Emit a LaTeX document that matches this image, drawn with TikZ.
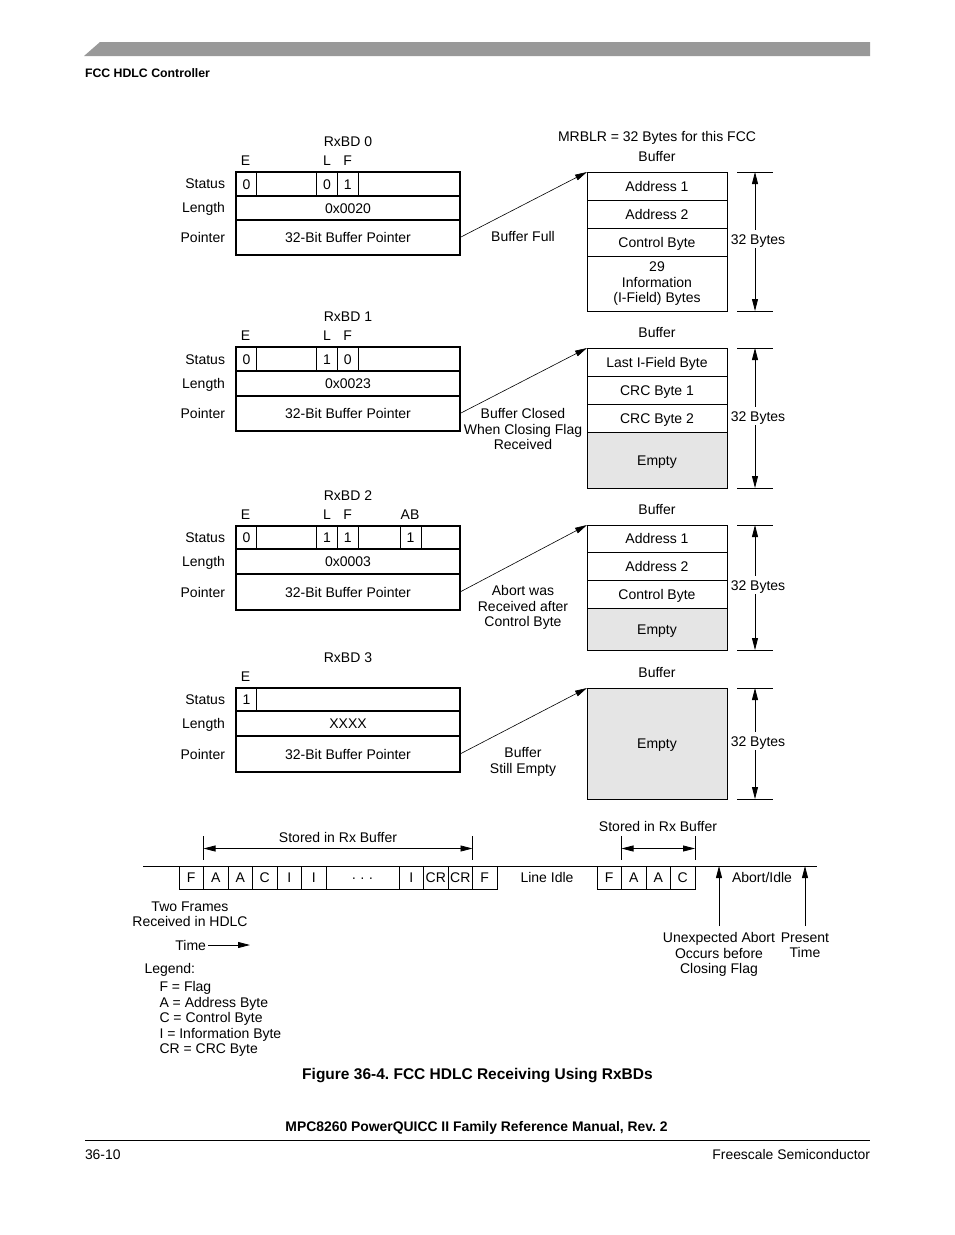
\documentclass[tikz,border=0pt]{standalone}
\usepackage{fontspec}
\setmainfont{Liberation Sans}
\usetikzlibrary{arrows.meta}
\frenchspacing
\newcommand\fs{\fontsize{14}{15.5}\selectfont}
\begin{document}
\begin{tikzpicture}[x=1pt,y=-1pt,
  every node/.style={inner sep=0pt, outer sep=0pt, font=\fs},
  lbl/.style={text height=10pt, text depth=0pt},
  ml/.style={align=center, anchor=north},
  tbl/.style={draw, line width=1.1pt},
  cellbox/.style={draw, line width=1pt},
  divider/.style={line width=1pt},
  emptyfill/.style={fill=black!10},
  conn/.style={line width=0.6pt, -{Triangle[length=12pt,width=6pt]}},
  dimline/.style={line width=0.8pt, {Triangle[length=12pt,width=6pt]}-{Triangle[length=12pt,width=6pt]}},
  dimtick/.style={line width=0.8pt},
  uparrow/.style={line width=0.8pt, -{Triangle[length=12pt,width=6pt]}},
  dimlbl/.style={fill=white, inner ysep=4pt, inner xsep=1pt, text height=10pt, text depth=0pt},
]
\useasboundingbox (0,0) rectangle (954,1235);

% ---------- page header ----------
\fill[black!40] (84,56) -- (100,42) -- (870,42) -- (870,56) -- cycle;
\node[anchor=west, font=\fontsize{12.3}{14}\selectfont\bfseries, lbl] (hdr) at (85,72) {FCC HDLC Controller};

% ---------- RxBD 0 ----------
\node[lbl] (r0) at (348,141) {RxBD 0};
\node[lbl] (r0e) at (245.5,160) {E};
\node[lbl] (r0l) at (327,160) {L};
\node[lbl] (r0f) at (347.7,160) {F};
\node[lbl, anchor=east] (r0s) at (225,183.5) {Status};
\node[lbl, anchor=east] (r0len) at (225,207.5) {Length};
\node[lbl, anchor=east] (r0p) at (225,237.5) {Pointer};
\node[tbl, minimum width=224pt, minimum height=24pt] (st0) at (348,184) {};
\node[tbl, lbl, minimum width=224pt, minimum height=24pt] (ln0) at (348,208) {0x0020};
\node[tbl, lbl, minimum width=224pt, minimum height=35pt] (pt0) at (348,237.5) {32-Bit Buffer Pointer};
\foreach \x in {256.7,316.7,337.3,358.3} \draw[divider] (\x,172) -- (\x,196);
\node[lbl] (v0a) at (246.5,184) {0};
\node[lbl] (v0b) at (327,184) {0};
\node[lbl] (v0c) at (347.7,184) {1};

% ---------- RxBD 1 ----------
\node[lbl] (r1) at (348,316.5) {RxBD 1};
\node[lbl] (r1e) at (245.5,335.5) {E};
\node[lbl] (r1l) at (327,335.5) {L};
\node[lbl] (r1f) at (347.7,335.5) {F};
\node[lbl, anchor=east] (r1s) at (225,359) {Status};
\node[lbl, anchor=east] (r1len) at (225,383.5) {Length};
\node[lbl, anchor=east] (r1p) at (225,413.5) {Pointer};
\node[tbl, minimum width=224pt, minimum height=24pt] (st1) at (348,359) {};
\node[tbl, lbl, minimum width=224pt, minimum height=25pt] (ln1) at (348,383.5) {0x0023};
\node[tbl, lbl, minimum width=224pt, minimum height=35pt] (pt1) at (348,413.5) {32-Bit Buffer Pointer};
\foreach \x in {256.7,316.7,337.3,358.3} \draw[divider] (\x,347) -- (\x,371);
\node[lbl] (v1a) at (246.5,359) {0};
\node[lbl] (v1b) at (327,359) {1};
\node[lbl] (v1c) at (347.7,359) {0};

% ---------- RxBD 2 ----------
\node[lbl] (r2) at (348,495) {RxBD 2};
\node[lbl] (r2e) at (245.5,514) {E};
\node[lbl] (r2l) at (327,514) {L};
\node[lbl] (r2f) at (347.7,514) {F};
\node[lbl] (r2ab) at (410,514) {AB};
\node[lbl, anchor=east] (r2s) at (225,537.5) {Status};
\node[lbl, anchor=east] (r2len) at (225,561.5) {Length};
\node[lbl, anchor=east] (r2p) at (225,592) {Pointer};
\node[tbl, minimum width=224pt, minimum height=23pt] (st2) at (348,537.5) {};
\node[tbl, lbl, minimum width=224pt, minimum height=25pt] (ln2) at (348,561.5) {0x0003};
\node[tbl, lbl, minimum width=224pt, minimum height=36pt] (pt2) at (348,592) {32-Bit Buffer Pointer};
\foreach \x in {256.7,316.7,337.3,358.3,400,421} \draw[divider] (\x,526) -- (\x,549);
\node[lbl] (v2a) at (246.5,537.5) {0};
\node[lbl] (v2b) at (327,537.5) {1};
\node[lbl] (v2c) at (347.7,537.5) {1};
\node[lbl] (v2d) at (410.5,537.5) {1};

% ---------- RxBD 3 ----------
\node[lbl] (r3) at (348,657) {RxBD 3};
\node[lbl] (r3e) at (245.5,676) {E};
\node[lbl, anchor=east] (r3s) at (225,699.5) {Status};
\node[lbl, anchor=east] (r3len) at (225,723.5) {Length};
\node[lbl, anchor=east] (r3p) at (225,754) {Pointer};
\node[tbl, minimum width=224pt, minimum height=23pt] (st3) at (348,699.5) {};
\node[tbl, lbl, minimum width=224pt, minimum height=25pt] (ln3) at (348,723.5) {XXXX};
\node[tbl, lbl, minimum width=224pt, minimum height=36pt] (pt3) at (348,754) {32-Bit Buffer Pointer};
\draw[divider] (256.7,688) -- (256.7,711);
\node[lbl] (v3a) at (246.5,699.5) {1};

% ---------- Buffers ----------
\node[lbl] (mrblr) at (657,136) {MRBLR = 32 Bytes for this FCC};
\node[lbl] (bl0) at (657,156) {Buffer};
\node[cellbox, lbl, minimum width=140pt, minimum height=28pt] (b0a) at (657,186) {Address 1};
\node[cellbox, lbl, minimum width=140pt, minimum height=28pt] (b0b) at (657,214) {Address 2};
\node[cellbox, lbl, minimum width=140pt, minimum height=28pt] (b0c) at (657,242) {Control Byte};
\node[cellbox, minimum width=140pt, minimum height=55pt] (b0d) at (657,283.5) {};
\node[ml] (b0dt) at (657,261.8) {29\\Information\\(I-Field) Bytes};

\node[lbl] (bl1) at (657,332) {Buffer};
\node[cellbox, lbl, minimum width=140pt, minimum height=28pt] (b1a) at (657,362) {Last I-Field Byte};
\node[cellbox, lbl, minimum width=140pt, minimum height=28pt] (b1b) at (657,390) {CRC Byte 1};
\node[cellbox, lbl, minimum width=140pt, minimum height=28pt] (b1c) at (657,418) {CRC Byte 2};
\node[cellbox, emptyfill, lbl, minimum width=140pt, minimum height=56pt] (b1d) at (657,460) {Empty};

\node[lbl] (bl2) at (657,509) {Buffer};
\node[cellbox, lbl, minimum width=140pt, minimum height=27pt] (b2a) at (657,538.5) {Address 1};
\node[cellbox, lbl, minimum width=140pt, minimum height=28pt] (b2b) at (657,566) {Address 2};
\node[cellbox, lbl, minimum width=140pt, minimum height=28pt] (b2c) at (657,594) {Control Byte};
\node[cellbox, emptyfill, lbl, minimum width=140pt, minimum height=42pt] (b2d) at (657,629) {Empty};

\node[lbl] (bl3) at (657,672) {Buffer};
\node[cellbox, emptyfill, lbl, minimum width=140pt, minimum height=111pt] (b3a) at (657,743.5) {Empty};

% ---------- connectors ----------
\draw[conn] (pt0.east) -- (b0a.north west);
\draw[conn] (pt1.east) -- (b1a.north west);
\draw[conn] (pt2.east) -- (b2a.north west);
\draw[conn] (pt3.east) -- (b3a.north west);
\node[lbl] (c0) at (523,236) {Buffer Full};
\node[ml] (c1) at (523,408.8) {Buffer Closed\\When Closing Flag\\Received};
\node[ml] (c2) at (523,585.6) {Abort was\\Received after\\Control Byte};
\node[ml] (c3) at (523,747.8) {Buffer\\Still Empty};

% ---------- 32 Bytes dimensions ----------
\foreach \t/\b/\m/\n in {172/311/239/0, 348/488/416/1, 525/650/585/2, 688/799/741/3} {
  \coordinate (dt\n) at (755,\t);
  \coordinate (db\n) at (755,\b);
  \draw[dimtick] (737,\t) -- (773,\t);
  \draw[dimtick] (737,\b) -- (773,\b);
  \draw[dimline] (dt\n) -- (db\n);
  \node[dimlbl] (dl\n) at (758,\m) {32 Bytes};
}

% ---------- time line ----------
\draw[line width=0.8pt] (143,866) -- (817,866);
\foreach \l/\r/\t [count=\i] in {179/203.5/F, 203.5/228/A, 228/252.5/A, 252.5/277/C, 277/301.5/I, 301.5/326/I, 326/399/{· · ·}, 399/423.5/I, 423.5/448/CR, 448/472.5/CR, 472.5/497/F} {
  \node[cellbox, lbl, minimum width={(\r-\l)*1pt}, minimum height=23pt] (fa\i) at ({(\l+\r)/2},877.5) {\t};
}
\foreach \l/\r/\t [count=\i] in {597/621.5/F, 621.5/646/A, 646/670.5/A, 670.5/695/C} {
  \node[cellbox, lbl, minimum width={(\r-\l)*1pt}, minimum height=23pt] (fb\i) at ({(\l+\r)/2},877.5) {\t};
}
\node[lbl] (idle) at (547,877) {Line Idle};
\node[lbl] (abidle) at (762,877) {Abort/Idle};

% stored in Rx buffer (frame 1)
\draw[dimtick] (203.5,836) -- (203.5,860);
\draw[dimtick] (472.5,836) -- (472.5,860);
\coordinate (sa1) at (203.5,848.5);
\coordinate (sa2) at (472.5,848.5);
\draw[dimline] (sa1) -- (sa2);
\node[lbl] (st1lbl) at (338,837) {Stored in Rx Buffer};
% stored in Rx buffer (frame 2)
\draw[dimtick] (621.5,836) -- (621.5,860);
\draw[dimtick] (695,836) -- (695,860);
\coordinate (sb1) at (621.5,848.5);
\coordinate (sb2) at (695,848.5);
\draw[dimline] (sb1) -- (sb2);
\node[lbl] (st2lbl) at (658,826) {Stored in Rx Buffer};

% abort / present arrows
\coordinate (ua0) at (719,926);
\coordinate (ua1) at (719,866);
\coordinate (pa0) at (805,926);
\coordinate (pa1) at (805,866);
\draw[uparrow] (ua0) -- (ua1);
\draw[uparrow] (pa0) -- (pa1);
\node[ml] (ulbl) at (719,932.7) {Unexpected Abort\\Occurs before\\Closing Flag};
\node[ml] (plbl) at (805,932.7) {Present\\Time};

\node[ml] (two) at (190,901.7) {Two Frames\\Received in HDLC};
\node[lbl, anchor=east] (time) at (206,945) {Time};
\coordinate (ta1) at (250,945);
\draw[line width=0.8pt, -{Triangle[length=12pt,width=6pt]}] (time.east) ++(2,0) -- (ta1);

% ---------- legend ----------
\node[lbl, anchor=west] (leg) at (144.5,968) {Legend:};
\node[anchor=north west, align=left] (legitems) at (159.5,981.5) {F = Flag\\A = Address Byte\\C = Control Byte\\I = Information Byte\\CR = CRC Byte};

% ---------- caption & footer ----------
\node[font=\fontsize{15.5}{17}\selectfont\bfseries, text height=11pt, text depth=0pt] (cap) at (477.5,1074) {Figure 36-4. FCC HDLC Receiving Using RxBDs};
\node[font=\fontsize{13.9}{16}\selectfont\bfseries, text height=10pt, text depth=0pt] (man) at (476.5,1126) {MPC8260 PowerQUICC II Family Reference Manual, Rev. 2};
\draw[line width=1pt] (85,1140) -- (870,1140);
\node[font=\fontsize{13.9}{16}\selectfont, text height=10pt, text depth=0pt, anchor=west] (pg) at (85,1154) {36-10};
\node[font=\fontsize{13.9}{16}\selectfont, text height=10pt, text depth=0pt, anchor=east] (fs) at (870,1154) {Freescale Semiconductor};
\end{tikzpicture}
\end{document}
